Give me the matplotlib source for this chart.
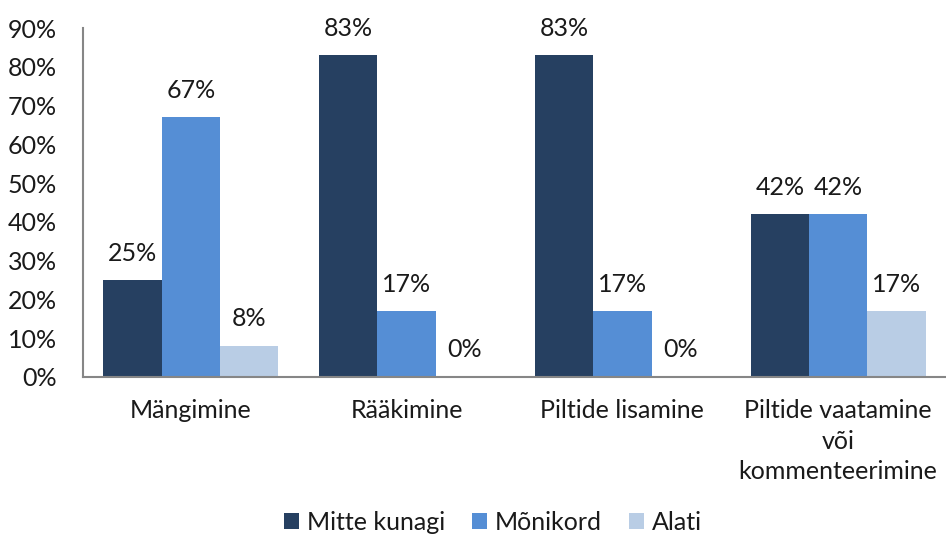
import matplotlib
matplotlib.use("Agg")
import matplotlib.pyplot as plt
import numpy as np

plt.rcParams['font.family'] = ['Lato', 'DejaVu Sans']

categories = ["Mängimine", "Rääkimine", "Piltide lisamine", "Piltide vaatamine\nvõi\nkommenteerimine"]
series_names = ["Mitte kunagi", "Mõnikord", "Alati"]
mitte_kunagi = [25, 83, 83, 42]
monikord = [67, 17, 17, 42]
alati = [8, 0, 0, 17]
colors = ["#264061", "#558ED5", "#B9CDE5"]
yticks = [0, 10, 20, 30, 40, 50, 60, 70, 80, 90]

FS = 18

fig = plt.figure(figsize=(9.46, 5.36), dpi=100)
ax = fig.add_axes([83/946, 1 - 377/536, 1 - 83/946, (377 - 28)/536])

x = np.arange(len(categories))
w = 0.27
data = [mitte_kunagi, monikord, alati]
handles = []
for i, (vals, name, c) in enumerate(zip(data, series_names, colors)):
    b = ax.bar(x + (i - 1) * w, vals, width=w, color=c, label=name)
    handles.append(b)
    for xi, v in zip(x + (i - 1) * w, vals):
        ax.text(xi, v + 4.0, f"{v}%", ha="center", va="bottom", fontsize=FS, color="#1a1a1a")

ax.set_xlim(-0.5, len(categories) - 0.5)
ax.set_ylim(0, 90)
ax.set_yticks(yticks)
ax.set_yticklabels([f"{t}%" for t in yticks], fontsize=FS, color="#1a1a1a")
ax.set_xticks(x)
ax.set_xticklabels(categories, fontsize=FS, color="#1a1a1a", linespacing=1.4, va="top")
ax.tick_params(axis="y", length=0, pad=19)
ax.tick_params(axis="x", length=0, pad=16)
for s in ["top", "right"]:
    ax.spines[s].set_visible(False)
for s in ["left", "bottom"]:
    ax.spines[s].set_color("#868686")
    ax.spines[s].set_linewidth(1.5)

fig.legend(handles=handles, labels=series_names, loc="lower center", bbox_to_anchor=(493/946, 2/536),
           ncol=3, frameon=False, fontsize=FS, handlelength=0.6, handleheight=0.6,
           handletextpad=0.3, columnspacing=1.1, labelcolor="#1a1a1a",
           borderpad=0, borderaxespad=0)

fig.savefig("out.png", dpi=100)
